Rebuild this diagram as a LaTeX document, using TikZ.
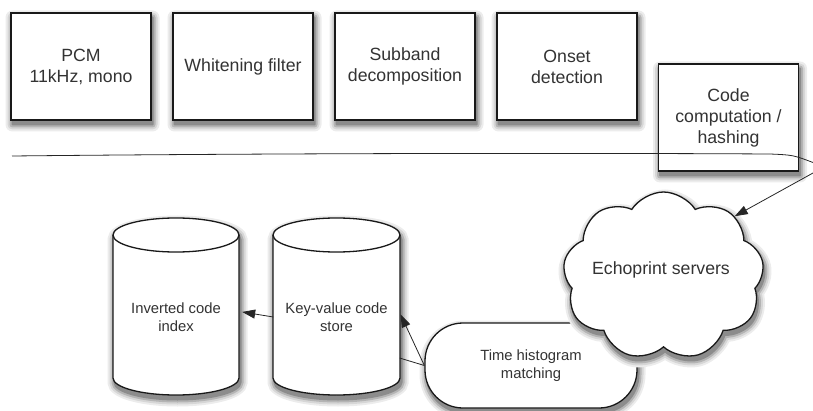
\documentclass[tikz,border=0pt]{standalone}
\usepackage{fontspec}
\setmainfont{Liberation Sans}
\usetikzlibrary{shapes.symbols, arrows.meta}

\definecolor{shadeA}{RGB}{236,236,236}
\definecolor{shadeB}{RGB}{214,214,214}
\definecolor{shadeC}{RGB}{180,180,180}
\definecolor{shadeD}{RGB}{140,140,140}

% soft drop shadow under a box given by its corners (offset down-right)
\newcommand\shadebox[4]{% x1, y1, x2, y2
  \fill[shadeA, rounded corners=7pt] (#1-5.5,#2-11.5) rectangle (#3+8.5,#4+2.5);
  \fill[shadeB, rounded corners=5pt] (#1-3.5,#2-9.5)  rectangle (#3+6.5,#4+0.5);
  \fill[shadeC, rounded corners=3pt] (#1-1.5,#2-7.5)  rectangle (#3+4.5,#4-1.5);
  \fill[shadeD, rounded corners=1pt] (#1+0.5,#2-5.5)  rectangle (#3+2.5,#4-3.5);}
% the same for a drum outline
\newcommand\shadedrum[3]{% left x, right x, radius x
  \foreach \w/\c in {14/shadeA, 10/shadeB, 6/shadeC, 2/shadeD} {%
    \path[draw=\c, fill=\c, line width=\w pt, shift={(1.5,-4.5)}]
      (#1,175) -- (#1,32)
      arc[start angle=180, end angle=360, x radius=#3, y radius=17] -- (#2,175)
      arc[start angle=0, end angle=180, x radius=#3, y radius=17] -- cycle;}}
% the same for a node shape
\newcommand\shadenode[2]{%
  \foreach \w/\c in {14/shadeA, 10/shadeB, 6/shadeC, 2/shadeD} {%
    \node[#1, draw=\c, fill=\c, line width=\w pt,
          xshift=1.5pt, yshift=-4.5pt] at #2 {};}}

\begin{document}
\begin{tikzpicture}[x=1pt, y=1pt,
  ink/.style={draw=black!90, line width=1.3pt},
  bigtext/.style={align=center, text=black!80, font=\fontsize{17.7}{21}\selectfont},
  smalltext/.style={align=center, text=black!80, font=\fontsize{14.8}{18}\selectfont},
  stagebox/.style={rectangle, minimum width=140pt, minimum height=107pt,
      inner sep=2pt, ink, fill=white, bigtext},
  pillshape/.style={rectangle, rounded corners=38pt, minimum width=212pt, minimum height=85pt},
  cloudshape/.style={cloud, cloud puffs=9, cloud puff arc=115, aspect=1.25,
      inner sep=0pt, minimum width=201pt, minimum height=168pt},
  drumbody/.style={minimum width=126pt, minimum height=143pt, inner sep=0pt, smalltext},
  link/.style={draw=black!85, line width=0.8pt},
  tip/.style={-{Triangle[length=13pt,width=9pt]}}
]
\useasboundingbox (0,0) rectangle (813,410);

% client-side processing stages
\shadebox{11}{290}{151}{397}
\shadebox{173}{290}{313}{397}
\shadebox{335}{290}{475}{397}
\shadebox{497}{290}{637}{397}
\shadebox{658.5}{239}{798.5}{346}
\node[stagebox] (pcm)    at (81,343.5)    {PCM\\11kHz, mono};
\node[stagebox] (white)  at (243,343.5)   {Whitening filter};
\node[stagebox] (sub)    at (405,343.5)   {Subband\\decomposition};
\node[stagebox] (onset)  at (567,343.5)   {Onset\\detection};
\node[stagebox] (code)   at (728.5,292.5) {Code\\computation /\\hashing};

% storage drums
\shadedrum{113}{239}{63}
\path[ink, fill=white] (113,175) -- (113,32)
  arc[start angle=180, end angle=360, x radius=63, y radius=17] -- (239,175)
  arc[start angle=0, end angle=180, x radius=63, y radius=17] -- cycle;
\draw[ink] (113,175) arc[start angle=180, end angle=360, x radius=63, y radius=17];
\shadedrum{273}{400}{63.5}
\path[ink, fill=white] (273,175) -- (273,32)
  arc[start angle=180, end angle=360, x radius=63.5, y radius=17] -- (400,175)
  arc[start angle=0, end angle=180, x radius=63.5, y radius=17] -- cycle;
\draw[ink] (273,175) arc[start angle=180, end angle=360, x radius=63.5, y radius=17];
\node[drumbody] (inv) at (176,93)   {Inverted code\\index};
\node[drumbody] (kv)  at (336.5,93) {Key-value code\\store};

% matching and servers
\shadenode{pillshape}{(531,44.5)}
\node[pillshape, ink, fill=white, smalltext] (hist) at (531,44.5)
  {Time histogram\\matching};
\shadenode{cloudshape}{(663.5,134)}
\node[cloudshape, ink, fill=white] (cloud) at (663.5,134) {};
\node[bigtext] (servers) at (661,140) {Echoprint servers};

% client / server divide, looping round into the servers
\coordinate (rule0) at (12,254);
\begin{scope}
  \clip (0,0) rectangle (813,410);
  \draw[link, tip] (rule0) .. controls (300,257) and (600,257) .. (770,256)
    .. controls (793,255) .. (813,247.5)
    .. controls (833,240) and (841,247) .. (813,237) -- (cloud.40);
\end{scope}

% lookups
\draw[link, tip, shorten >=3pt] (kv.west) -- (inv.5);
\draw[link, tip, shorten >=2pt] (hist.west) -- (kv.4.5);
\draw[link] (hist.west) -- (kv.-33);
\end{tikzpicture}
\end{document}
